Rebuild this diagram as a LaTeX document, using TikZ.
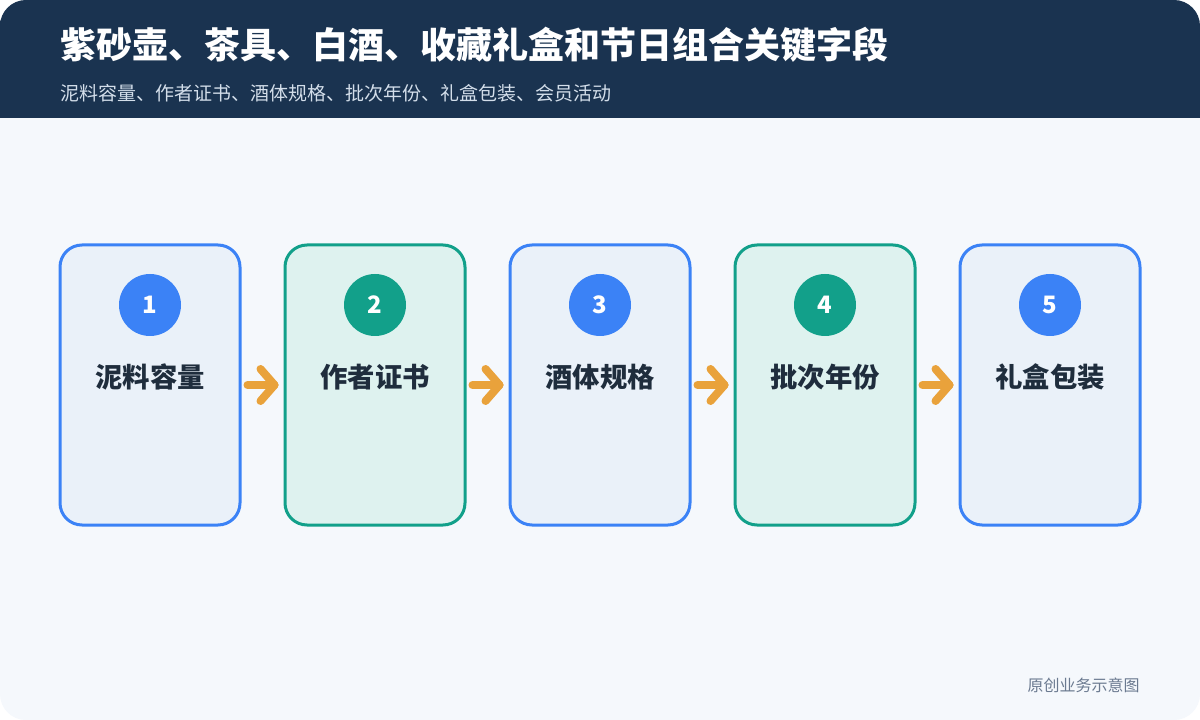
\documentclass[tikz,border=0pt]{standalone}
\usepackage{fontspec}
\setmainfont{Noto Sans CJK SC}
\newfontfamily\cjk{Noto Sans CJK SC}
\definecolor{navy}{HTML}{1A3350}
\definecolor{bodybg}{HTML}{F5F8FC}
\definecolor{blueb}{HTML}{3B82F6}
\definecolor{bluef}{HTML}{EAF1F9}
\definecolor{greenb}{HTML}{12A08A}
\definecolor{greenf}{HTML}{DEF2EF}
\definecolor{labelc}{HTML}{1F2D3D}
\definecolor{subc}{HTML}{D3DEEA}
\definecolor{footc}{HTML}{6B7A90}
\definecolor{arrc}{HTML}{E9A23B}
\tikzset{
  card/.style={draw, line width=2.25pt, rounded corners=16.5pt, minimum width=135pt, minimum height=210pt, inner sep=0pt},
  bluecard/.style={card, draw=blueb, fill=bluef},
  greencard/.style={card, draw=greenb, fill=greenf},
  badge/.style={circle, minimum size=46.5pt, inner sep=0pt, text=white, font=\cjk\bfseries\fontsize{18}{20}\selectfont},
  cardlabel/.style={text=labelc, font=\cjk\bfseries\fontsize{20.5}{23}\selectfont, inner sep=0pt},
  flow/.style={draw=arrc, line width=6pt, line cap=round, line join=round}
}
\begin{document}
\begin{tikzpicture}[x=0.75pt,y=-0.75pt]
\useasboundingbox (0,0) rectangle (1200,720);
\fill[white] (0,0) rectangle (1200,720);
\fill[bodybg, rounded corners=19.5pt] (0,0) rectangle (1200,720);
\fill[navy] (0,118) -- (0,20) [rounded corners=19.5pt] -- (0,0) -- (1200,0) [sharp corners] -- (1200,20) -- (1200,118) -- cycle;
\node[anchor=west, text=white, font=\cjk\bfseries\fontsize{27}{30}\selectfont, inner sep=0pt] (title) at (60,45) {紫砂壶、茶具、白酒、收藏礼盒和节日组合关键字段};
\node[anchor=west, text=subc, font=\cjk\fontsize{14.25}{17}\selectfont, inner sep=0pt] (subtitle) at (60,93) {泥料容量、作者证书、酒体规格、批次年份、礼盒包装、会员活动};

\node[bluecard] (c1) at (150,385) {};
\node[greencard] (c2) at (375,385) {};
\node[bluecard] (c3) at (600,385) {};
\node[greencard] (c4) at (825,385) {};
\node[bluecard] (c5) at (1050,385) {};

\node[badge, fill=blueb] (b1) at (150,305) {1};
\node[badge, fill=greenb] (b2) at (375,305) {2};
\node[badge, fill=blueb] (b3) at (600,305) {3};
\node[badge, fill=greenb] (b4) at (825,305) {4};
\node[badge, fill=blueb] (b5) at (1050,305) {5};

\node[cardlabel] (l1) at (150,377) {泥料容量};
\node[cardlabel] (l2) at (375,377) {作者证书};
\node[cardlabel] (l3) at (600,377) {酒体规格};
\node[cardlabel] (l4) at (825,377) {批次年份};
\node[cardlabel] (l5) at (1050,377) {礼盒包装};

\foreach \a/\b in {c1/c2,c2/c3,c3/c4,c4/c5}{
  \coordinate (s) at ([xshift=4.5pt]\a.east);
  \coordinate (e) at ([xshift=-6.75pt]\b.west);
  \draw[flow] (s) -- (e);
  \draw[flow] ([xshift=-10.5pt,yshift=12pt]e) -- (e) -- ([xshift=-10.5pt,yshift=-12pt]e);
}

\node[anchor=east, text=footc, font=\cjk\fontsize{12}{14}\selectfont, inner sep=0pt] (foot) at (1140,685) {原创业务示意图};
\end{tikzpicture}
\end{document}
